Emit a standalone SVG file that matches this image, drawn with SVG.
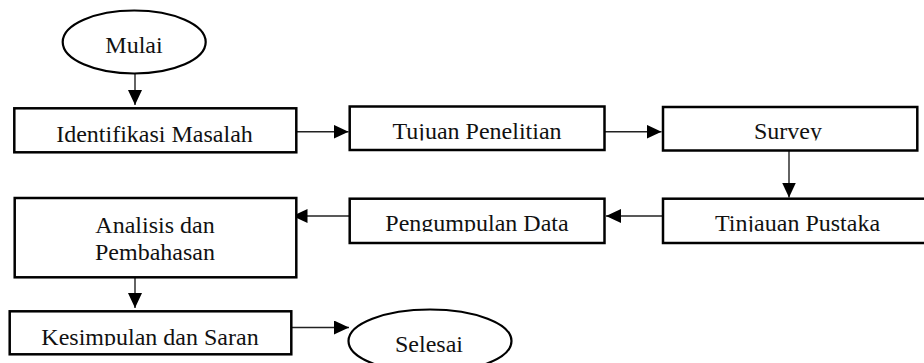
<svg xmlns="http://www.w3.org/2000/svg" width="924" height="363" viewBox="0 0 924 363">
<style>
.box{fill:#fff;stroke:#000;stroke-width:2.5}
.term{fill:#fff;stroke:#000;stroke-width:2.2}
.lbl{font-family:"Liberation Serif","Times New Roman",serif;font-size:24px;fill:#111;text-anchor:middle}
.con{stroke:#222;stroke-width:1.4;fill:none;marker-end:url(#ah)}
</style>
<defs>
<marker id="ah" markerUnits="userSpaceOnUse" markerWidth="15" markerHeight="14" refX="15" refY="7" orient="auto">
<path d="M0,0 L15,7 L0,14 z" fill="#000"/>
</marker>
<clipPath id="c1"><rect x="0" y="0" width="924" height="140.5"/></clipPath>
<clipPath id="c2"><rect x="0" y="0" width="924" height="231.7"/></clipPath>
<clipPath id="c3"><rect x="0" y="0" width="924" height="345.8"/></clipPath>
</defs>
<g id="connectors">
<line class="con" x1="135" y1="74" x2="135" y2="105"/>
<line class="con" x1="297" y1="131.7" x2="348.5" y2="131.7"/>
<line class="con" x1="605" y1="131.7" x2="661.5" y2="131.7"/>
<line class="con" x1="789" y1="151" x2="789" y2="197.5"/>
<line class="con" x1="663" y1="216" x2="606" y2="216"/>
<line class="con" x1="349.5" y1="216" x2="292.5" y2="216"/>
<line class="con" x1="135" y1="263" x2="135" y2="308"/>
<line class="con" x1="292" y1="327.5" x2="349" y2="327.5"/>
</g>
<g id="mulai">
<ellipse class="term" cx="134.2" cy="42" rx="71.5" ry="31.5"/>
<text class="lbl" x="134" y="53">Mulai</text>
</g>
<g id="identifikasi">
<rect class="box" x="14.3" y="108.3" width="282" height="44"/>
<text class="lbl" x="154.5" y="141.5">Identifikasi Masalah</text>
</g>
<g id="tujuan">
<rect class="box" x="349.7" y="106.5" width="254.8" height="43.5"/>
<text class="lbl" x="477" y="139" clip-path="url(#c1)">Tujuan Penelitian</text>
</g>
<g id="survey">
<rect class="box" x="663" y="107" width="254.3" height="43.5"/>
<text class="lbl" x="788" y="139.3" clip-path="url(#c1)">Survey</text>
</g>
<g id="tinjauan">
<rect class="box" x="663" y="198.7" width="270" height="44.3"/>
<text class="lbl" x="797.5" y="230.8" clip-path="url(#c2)">Tinjauan Pustaka</text>
</g>
<g id="pengumpulan">
<rect class="box" x="349.7" y="198.7" width="254.8" height="44.3"/>
<text class="lbl" x="477" y="230.8" clip-path="url(#c2)">Pengumpulan Data</text>
</g>
<g id="analisis">
<rect class="box" x="14.7" y="198" width="281.6" height="79.3"/>
<text class="lbl" x="155" y="232.7">Analisis dan</text>
<text class="lbl" x="155" y="260">Pembahasan</text>
</g>
<g id="kesimpulan">
<rect class="box" x="9.7" y="311.3" width="281.6" height="43"/>
<text class="lbl" x="150" y="345" clip-path="url(#c3)">Kesimpulan dan Saran</text>
</g>
<g id="selesai">
<ellipse class="term" cx="430" cy="341" rx="81.5" ry="31.5"/>
<text class="lbl" x="429" y="351.5">Selesai</text>
</g>
</svg>
